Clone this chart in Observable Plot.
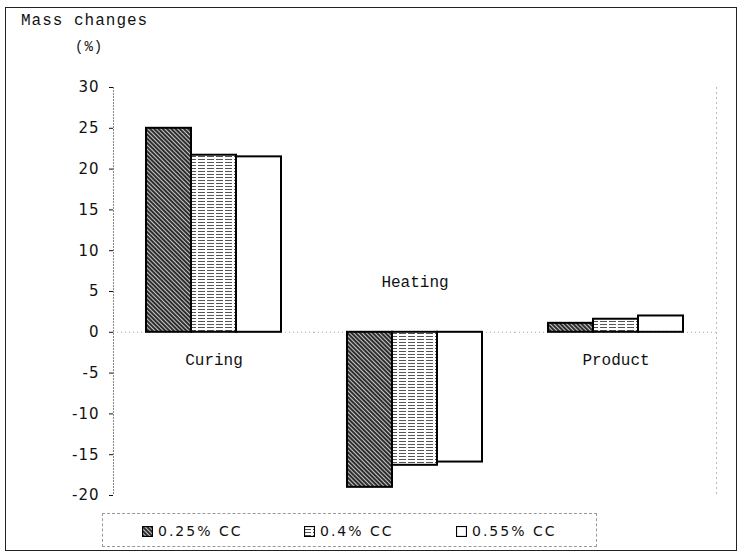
<!DOCTYPE html>
<html>
<head>
<meta charset="utf-8">
<script src="https://cdn.jsdelivr.net/npm/d3@7"></script>
<script src="https://cdn.jsdelivr.net/npm/@observablehq/plot@0.6"></script>
<style>
  body { margin: 0; background: #fff; }
  #wrap { position: relative; width: 739px; height: 556px; overflow: hidden; background: #fff; }
  #wrap svg.plot { position: absolute; left: 0; top: 0; }
  .border { position: absolute; left: 5px; top: 7px; width: 730px; height: 542px; border: 1.5px solid #222; pointer-events: none; }
  .title { position: absolute; left: 21px; top: 12px; font-family: "Liberation Mono", monospace; font-size: 16px; letter-spacing: 1px; color: #111; }
  .unit { position: absolute; left: 75px; top: 39px; font-family: "Liberation Mono", monospace; font-size: 14px; letter-spacing: 1px; color: #111; }
  .legend { position: absolute; left: 102px; top: 513px; width: 495px; height: 34px; border: 1px dashed #999; box-sizing: border-box; }
  .item { position: absolute; top: 9px; display: flex; align-items: center; font-family: "DejaVu Sans", sans-serif; font-size: 14px; letter-spacing: 2px; color: #111; }
  .item svg { margin-right: 5px; }
  .plot g[aria-label="y-axis tick label"] text { letter-spacing: 1px; }
  .plot g[aria-label="y-axis tick"] { stroke: #666; }
</style>
</head>
<body>
<div id="wrap"></div>
<script>
const categories = ["Curing", "Heating", "Product"];
const series = ["0.25% CC", "0.4% CC", "0.55% CC"];
const v025 = [25.0, -19.0, 1.1];
const v04 = [21.7, -16.3, 1.6];
const v055 = [21.5, -15.9, 2.0];
const yTicks = [30, 25, 20, 15, 10, 5, 0, -5, -10, -15, -20];
const titleText = "Mass changes";
const unitText = "(%)";

const valuesBySeries = [v025, v04, v055];
const rows = [];
categories.forEach((c, i) => {
  series.forEach((s, j) => rows.push({category: c, series: s, value: valuesBySeries[j][i]}));
});
const labelRows = categories.map((c, i) => ({category: c, neg: v025[i] < 0}));

const fills = ["url(#pat025)", "url(#pat04)", "#ffffff"];

const plot = Plot.plot({
  width: 739,
  height: 556,
  marginLeft: 113,
  marginRight: 23,
  marginTop: 87,
  marginBottom: 61,
  className: "plot",
  style: {fontFamily: "DejaVu Sans, sans-serif", fontSize: "15px", background: "transparent", color: "#111"},
  fx: {domain: categories, padding: 0, axis: null},
  x: {domain: series, paddingInner: 0, paddingOuter: 0.73, axis: null},
  y: {domain: [-20, 30], ticks: yTicks, tickSize: 4, tickPadding: 10, tickFormat: d => String(d), label: null},
  color: {domain: series, range: fills},
  marks: [
    Plot.frame({anchor: "left", facet: "super", stroke: "#888", strokeDasharray: "1,2"}),
    Plot.frame({anchor: "right", facet: "super", stroke: "#bbb", strokeDasharray: "1,4"}),
    Plot.ruleY([0], {stroke: "#aaa", strokeDasharray: "1,3"}),
    Plot.barY(rows, {fx: "category", x: "series", y: "value", fill: "series", stroke: "#000", strokeWidth: 2}),
    Plot.text(labelRows.filter(d => !d.neg), {fx: "category", y: () => 0, text: "category", dy: 28, fontFamily: "Liberation Mono, monospace", fontSize: 16, fill: "#111"}),
    Plot.text(labelRows.filter(d => d.neg), {fx: "category", y: () => 0, text: "category", dy: -50, fontFamily: "Liberation Mono, monospace", fontSize: 16, fill: "#111"})
  ]
});

// pattern definitions
const defs = `
<defs>
  <pattern id="pat025" patternUnits="userSpaceOnUse" width="3" height="3" patternTransform="rotate(45)">
    <rect width="3" height="3" fill="#2e2e2e"></rect>
    <line x1="0" y1="1.5" x2="3" y2="1.5" stroke="#d8d8d8" stroke-width="0.9"></line>
  </pattern>
  <pattern id="pat04" patternUnits="userSpaceOnUse" width="9" height="3">
    <rect width="9" height="3" fill="#ffffff"></rect>
    <line x1="0" y1="0.5" x2="9" y2="0.5" stroke="#555" stroke-width="1" stroke-dasharray="7,2"></line>
  </pattern>
</defs>`;
plot.insertAdjacentHTML("afterbegin", defs);

const wrap = document.getElementById("wrap");
wrap.appendChild(plot);

const t = document.createElement("div"); t.className = "title"; t.textContent = titleText; wrap.appendChild(t);
const u = document.createElement("div"); u.className = "unit"; u.textContent = unitText; wrap.appendChild(u);

const legend = document.createElement("div");
legend.className = "legend";
const itemLeft = [39, 201, 353];
series.forEach((s, j) => {
  const it = document.createElement("div");
  it.className = "item";
  it.style.left = itemLeft[j] + "px";
  it.innerHTML = `<svg width="11" height="11"><rect x="0.5" y="0.5" width="10" height="10" fill="${fills[j]}" stroke="#000" stroke-width="1.2"></rect></svg><span>${s}</span>`;
  legend.appendChild(it);
});
wrap.appendChild(legend);

const b = document.createElement("div"); b.className = "border"; wrap.appendChild(b);
</script>
</body>
</html>
